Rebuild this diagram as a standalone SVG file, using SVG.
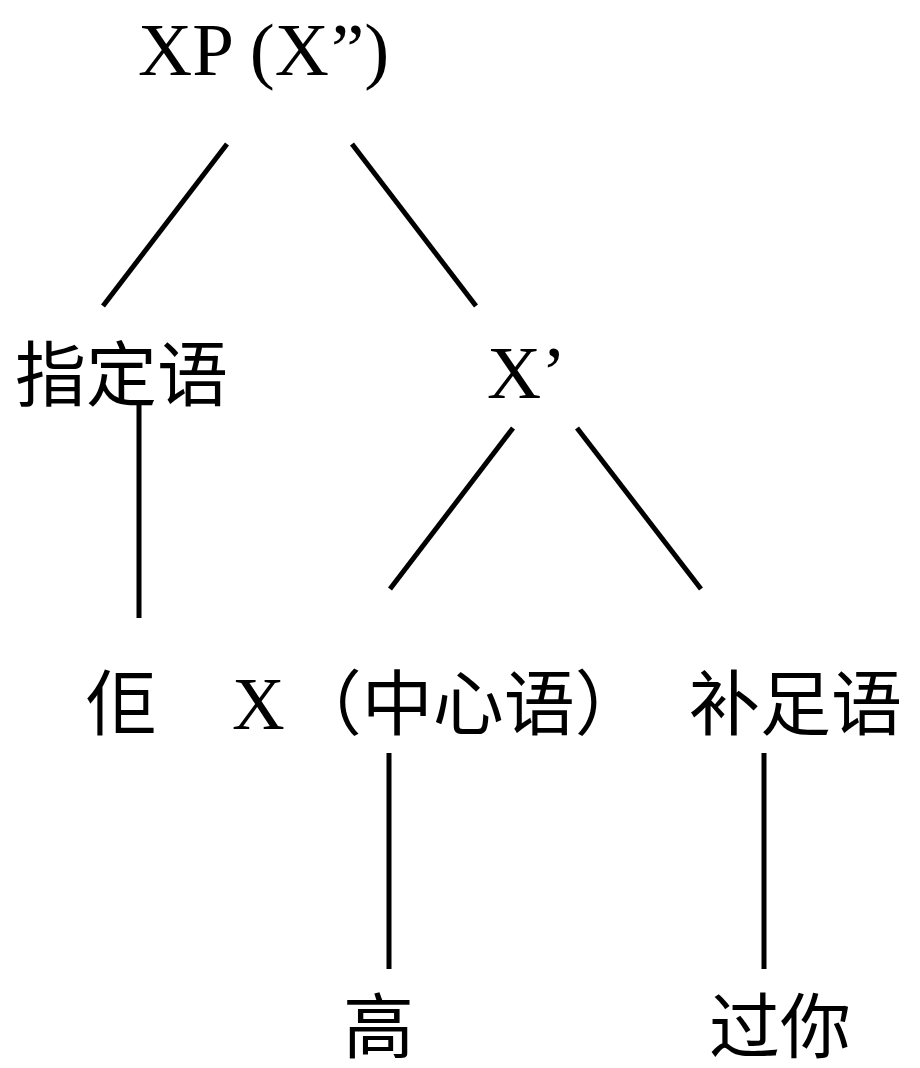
<svg xmlns="http://www.w3.org/2000/svg" width="920" height="1068" viewBox="0 0 920 1068">
<style>
.bg{fill:#ffffff}
.lat{font-family:"Liberation Serif","Noto Sans CJK SC",serif;font-size:75px;fill:#000}
.cjk{font-family:"Liberation Serif","Noto Sans CJK SC",serif;font-size:71px;fill:#000}
.e{stroke:#000;stroke-width:5;fill:none}
</style>
<rect class="bg" x="0" y="0" width="920" height="1068"/>
<g id="connectors">
<line class="e" x1="227" y1="144" x2="103" y2="306"/>
<line class="e" x1="352" y1="144" x2="476" y2="306"/>
<line class="e" x1="139" y1="403" x2="139" y2="618"/>
<line class="e" x1="513" y1="428" x2="390" y2="589"/>
<line class="e" x1="577" y1="428" x2="701" y2="589"/>
<line class="e" x1="389" y1="753" x2="389" y2="969"/>
<line class="e" x1="764" y1="753" x2="764" y2="969"/>
</g>
<g id="node-xp"><text class="lat" x="138" y="75">XP (X<tspan dx="2">”</tspan>)</text></g>
<g id="node-spec"><text class="cjk" x="15" y="400">指定语</text></g>
<g id="node-xbar"><text class="lat" x="487" y="398">X’</text></g>
<g id="node-keoi"><text class="cjk" x="86" y="729">佢</text></g>
<g id="node-head"><text class="cjk" x="232" y="729"><tspan style="font-size:73px">X</tspan><tspan dx="6">（中心语）</tspan></text></g>
<g id="node-comp"><text class="cjk" x="689" y="729">补足语</text></g>
<g id="node-gou"><text class="cjk" x="343" y="1052">高</text></g>
<g id="node-gwonei"><text class="cjk" x="709" y="1052">过你</text></g>
</svg>
